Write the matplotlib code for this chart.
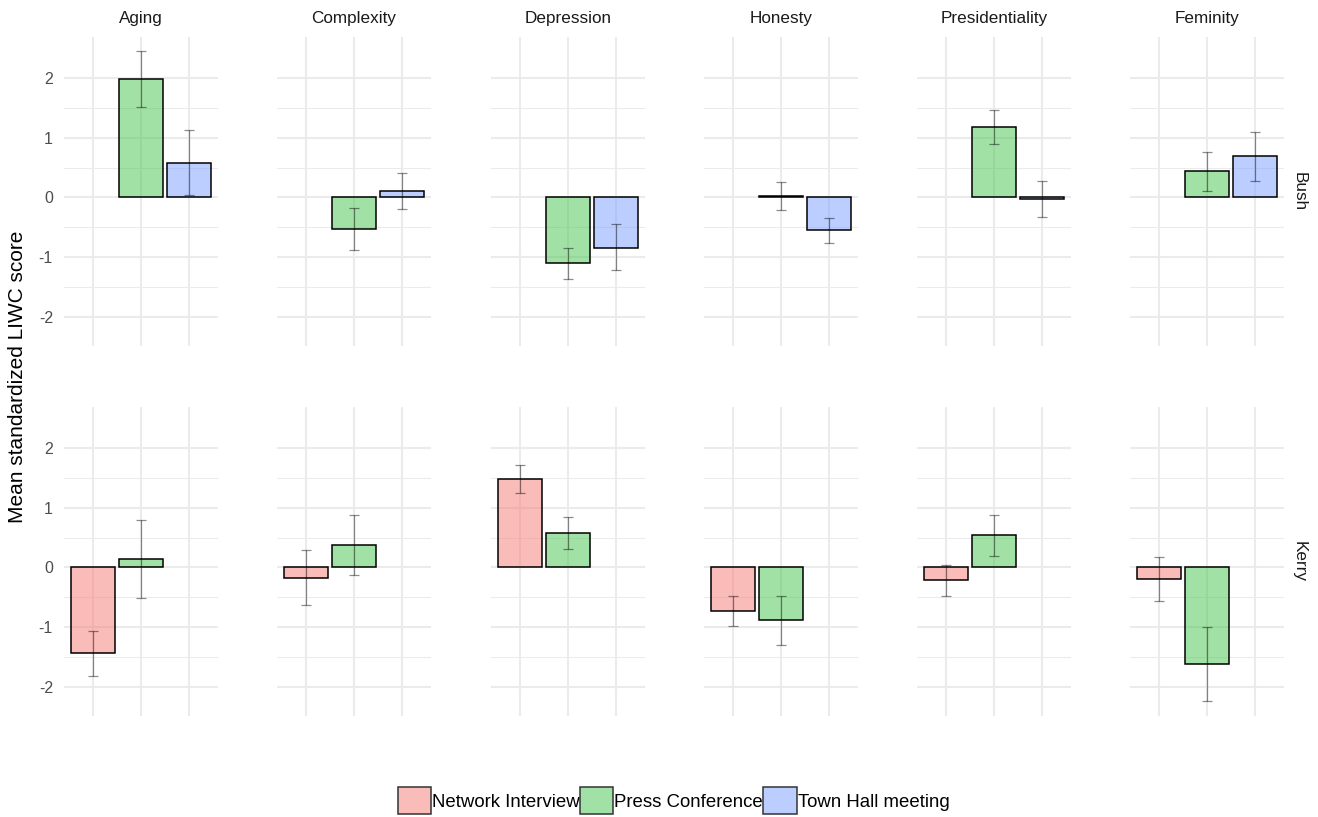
import numpy as np
import matplotlib.pyplot as plt
from matplotlib.patches import Patch
from matplotlib.colors import to_rgb

plt.rcParams['font.family'] = ['Liberation Sans', 'DejaVu Sans']

traits = ["Aging", "Complexity", "Depression", "Honesty", "Presidentiality", "Feminity"]
settings = ["Network Interview", "Press Conference", "Town Hall meeting"]
speakers = ["Bush", "Kerry"]

# Bush: press conference + town hall (no network interview)
bush_press = [1.98, -0.53, -1.10, 0.025, 1.18, 0.44]
bush_press_lo = [1.52, -0.88, -1.36, -0.21, 0.89, 0.10]
bush_press_hi = [2.45, -0.17, -0.84, 0.26, 1.47, 0.76]
bush_town = [0.58, 0.11, -0.84, -0.55, -0.025, 0.69]
bush_town_lo = [0.04, -0.19, -1.22, -0.77, -0.33, 0.27]
bush_town_hi = [1.13, 0.41, -0.45, -0.34, 0.27, 1.10]

# Kerry: network interview + press conference (no town hall)
kerry_network = [-1.43, -0.17, 1.48, -0.73, -0.215, -0.19]
kerry_network_lo = [-1.81, -0.63, 1.25, -0.975, -0.48, -0.56]
kerry_network_hi = [-1.06, 0.29, 1.72, -0.485, 0.04, 0.18]
kerry_press = [0.14, 0.38, 0.58, -0.88, 0.54, -1.62]
kerry_press_lo = [-0.51, -0.12, 0.31, -1.29, 0.20, -2.23]
kerry_press_hi = [0.80, 0.88, 0.84, -0.485, 0.88, -1.00]

nan = [np.nan] * 6
means = {"Bush": [nan, bush_press, bush_town],
         "Kerry": [kerry_network, kerry_press, nan]}
lows = {"Bush": [nan, bush_press_lo, bush_town_lo],
        "Kerry": [kerry_network_lo, kerry_press_lo, nan]}
highs = {"Bush": [nan, bush_press_hi, bush_town_hi],
         "Kerry": [kerry_network_hi, kerry_press_hi, nan]}

colors = ["#F77B75", "#47C54D", "#799FFF"]
alpha = 0.5

W, H = 1318, 817
fig = plt.figure(figsize=(W / 100, H / 100), dpi=100)

lefts = [64, 277, 491, 704, 917, 1130]
pw = 154
tops = [37, 407]
ph = 309

x = np.arange(1, 4)
for r, sp in enumerate(speakers):
    for c, tr in enumerate(traits):
        ax = fig.add_axes([lefts[c] / W, 1 - (tops[r] + ph) / H, pw / W, ph / H])
        for k in range(3):
            m = means[sp][k][c]
            if np.isnan(m):
                continue
            lo = lows[sp][k][c]
            hi = highs[sp][k][c]
            ax.bar(x[k], m, width=0.9, color=colors[k], alpha=alpha, zorder=2)
            ax.bar(x[k], m, width=0.9, fill=False, edgecolor="black", linewidth=1.1, zorder=3)
            ax.errorbar(x[k], m, yerr=[[m - lo], [hi - m]], fmt="none",
                        ecolor=(0, 0, 0, 0.45), elinewidth=0.9, capsize=3.6,
                        capthick=0.9, zorder=4)
        ax.set_xlim(0.4, 3.6)
        ax.set_ylim(-2.485, 2.685)
        ax.set_xticks(x)
        ax.set_xticklabels([])
        ax.set_yticks([-2, -1, 0, 1, 2])
        ax.set_yticks([-1.5, -0.5, 0.5, 1.5], minor=True)
        ax.grid(which="major", color="#EBEBEB", linewidth=1.5, zorder=0)
        ax.grid(which="minor", axis="y", color="#EBEBEB", linewidth=0.75, zorder=0)
        ax.set_axisbelow(True)
        ax.tick_params(which="both", length=0, pad=8, labelsize=11.5, labelcolor="#4D4D4D")
        if c > 0:
            ax.set_yticklabels([])
        else:
            ax.set_yticklabels(["-2", "-1", "0", "1", "2"])
        for s in ax.spines.values():
            s.set_visible(False)
        if r == 0:
            ax.set_title(tr, fontsize=12.3, color="#1A1A1A", pad=10)
        if c == 5:
            ax.text(1.1, 0.5, sp, transform=ax.transAxes, rotation=270,
                    fontsize=12.3, color="#1A1A1A", ha="center", va="center")

fig.text(18 / W, 1 - 377 / H, "Mean standardized LIWC score", rotation=90,
         fontsize=15, ha="center", va="center")

handles = [Patch(facecolor=(*to_rgb(colors[k]), alpha),
                 edgecolor="#333333", linewidth=1.1) for k in range(3)]
fig.legend(handles, settings, loc="center", ncol=3,
           bbox_to_anchor=(673.5 / W, 1 - 800.5 / H), frameon=False,
           fontsize=13.4, handlelength=1.8, handleheight=1.8,
           handletextpad=0.05, columnspacing=0.0, borderpad=0)

fig.savefig("out.png", dpi=100)
